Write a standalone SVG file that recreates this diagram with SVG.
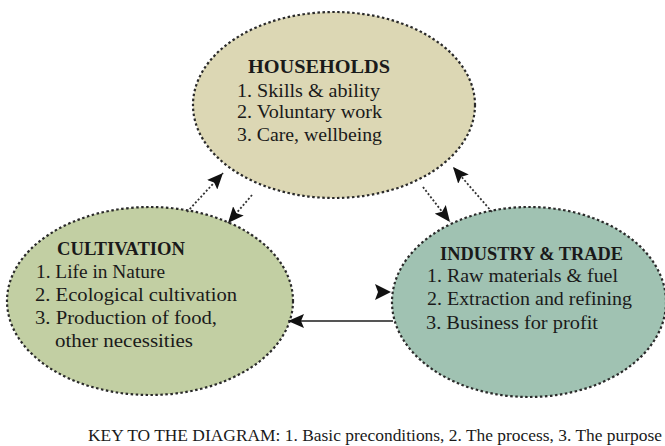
<svg xmlns="http://www.w3.org/2000/svg" width="665" height="446" viewBox="0 0 665 446">
<defs>
<style>
.node{stroke:#2a2a2a;stroke-width:2.2;stroke-dasharray:2.5 2.5}
.t{font-family:"Liberation Serif","Times New Roman",serif;font-size:18px;fill:#1a1a1a}
.h{font-weight:bold}
.c{fill:none;stroke:#333;stroke-width:1.8;stroke-dasharray:2 2}
.s{fill:none;stroke:#555;stroke-width:1.8}
.k{font-size:17px}
</style>
<marker id="ah" viewBox="0 0 16 14" refX="16" refY="7" markerWidth="16" markerHeight="14" markerUnits="userSpaceOnUse" orient="auto">
<path d="M0,0 L16,7 L0,14 L3,7 Z" fill="#111"/>
</marker>
</defs>
<rect width="665" height="446" fill="#fff"/>
<g id="households">
<ellipse class="node" cx="334" cy="105" rx="141" ry="93" fill="#dcd7b4"/>
<text class="t h" x="248" y="73" textLength="142" lengthAdjust="spacingAndGlyphs">HOUSEHOLDS</text>
<text class="t" x="237" y="97" textLength="143" lengthAdjust="spacingAndGlyphs">1. Skills &amp; ability</text>
<text class="t" x="237" y="118" textLength="145" lengthAdjust="spacingAndGlyphs">2. Voluntary work</text>
<text class="t" x="237" y="141" textLength="145" lengthAdjust="spacingAndGlyphs">3. Care, wellbeing</text>
</g>
<g id="cultivation">
<ellipse class="node" cx="150" cy="301" rx="143" ry="94" fill="#c2cfa3"/>
<text class="t h" x="57" y="255" textLength="128" lengthAdjust="spacingAndGlyphs">CULTIVATION</text>
<text class="t" x="36" y="278" textLength="129" lengthAdjust="spacingAndGlyphs">1. Life in Nature</text>
<text class="t" x="35" y="301" textLength="202" lengthAdjust="spacingAndGlyphs">2. Ecological cultivation</text>
<text class="t" x="35" y="324" textLength="182" lengthAdjust="spacingAndGlyphs">3. Production of food,</text>
<text class="t" x="55" y="347" textLength="138" lengthAdjust="spacingAndGlyphs">other necessities</text>
</g>
<g id="industry">
<ellipse class="node" cx="529" cy="302" rx="137" ry="95" fill="#a0c2b2"/>
<text class="t h" x="440" y="260" textLength="183" lengthAdjust="spacingAndGlyphs">INDUSTRY &amp; TRADE</text>
<text class="t" x="427" y="282" textLength="191" lengthAdjust="spacingAndGlyphs">1. Raw materials &amp; fuel</text>
<text class="t" x="427" y="305" textLength="205" lengthAdjust="spacingAndGlyphs">2. Extraction and refining</text>
<text class="t" x="426" y="329" textLength="172" lengthAdjust="spacingAndGlyphs">3. Business for profit</text>
</g>
<g id="connectors">
<path class="c" d="M187,212 L223,173" marker-end="url(#ah)"/>
<path class="c" d="M252,195 L228,223" marker-end="url(#ah)"/>
<path class="c" d="M423,187 L450,222" marker-end="url(#ah)"/>
<path class="c" d="M492,212 L453,167" marker-end="url(#ah)"/>
<path class="s" d="M393,321 L288,321" marker-end="url(#ah)"/>
<path d="M375,284 L391,292 L375,300 L378,292 Z" fill="#111"/>
</g>
<text class="t k" x="88" y="441" textLength="574" lengthAdjust="spacingAndGlyphs">KEY TO THE DIAGRAM: 1. Basic preconditions, 2. The process, 3. The purpose</text>
</svg>
